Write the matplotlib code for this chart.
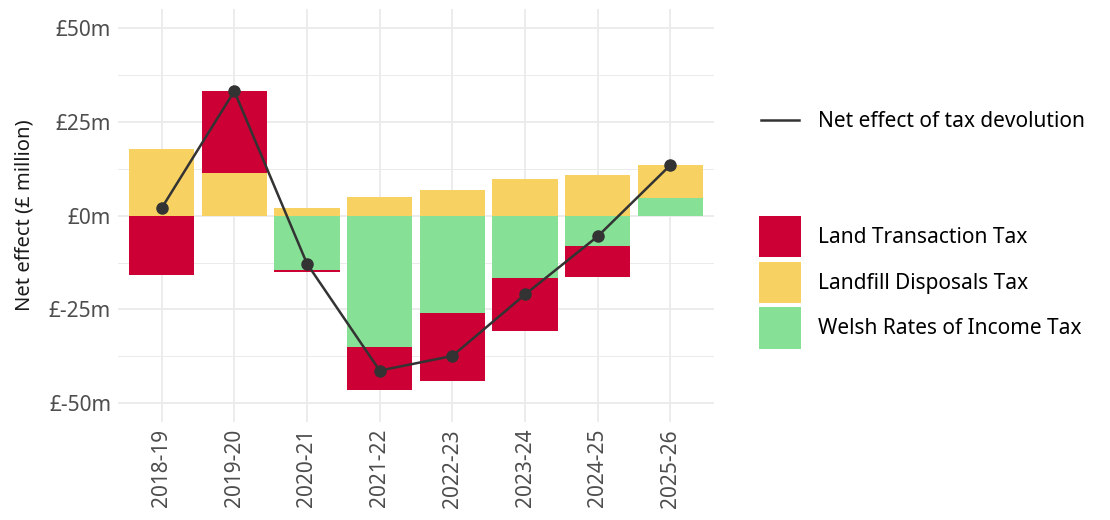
import numpy as np
import matplotlib
matplotlib.use("Agg")
import matplotlib.pyplot as plt
from matplotlib.patches import Patch
from matplotlib.lines import Line2D

plt.rcParams['font.family'] = ['Noto Sans', 'DejaVu Sans']

years = ["2018-19", "2019-20", "2020-21", "2021-22", "2022-23", "2023-24", "2024-25", "2025-26"]
ltt = [-15.8, 21.7, -0.4, -11.6, -18.1, -14.0, -8.4, 0.0]   # Land Transaction Tax
ldt = [17.8, 11.5, 2.0, 5.1, 6.9, 9.8, 10.9, 8.9]          # Landfill Disposals Tax
writ = [0.0, 0.0, -14.5, -34.9, -26.0, -16.7, -8.0, 4.6]    # Welsh Rates of Income Tax
net = [2.0, 33.2, -12.8, -41.3, -37.4, -21.0, -5.5, 13.5]

series = [("Welsh Rates of Income Tax", writ, "#86e196"),
          ("Landfill Disposals Tax", ldt, "#f7d162"),
          ("Land Transaction Tax", ltt, "#cc0035")]

fig = plt.figure(figsize=(11.1, 5.2), dpi=100)
ax = fig.add_axes([0.1063, 0.1885, 0.5370, 0.7935])

x = np.arange(len(years))
pos_base = np.zeros(len(years))
neg_base = np.zeros(len(years))
for name, vals, col in series:
    v = np.array(vals)
    bottom = np.where(v >= 0, pos_base, neg_base)
    ax.bar(x, v, width=0.9, bottom=bottom, color=col, zorder=2, linewidth=0)
    pos_base += np.clip(v, 0, None)
    neg_base += np.clip(v, None, 0)

ax.plot(x, net, color="#333333", lw=1.8, marker="o", ms=8, zorder=3)

ax.set_xlim(-0.6, len(years) - 0.4)
ax.set_ylim(-55, 55)
ax.set_yticks([-50, -25, 0, 25, 50])
ax.set_yticklabels(["£-50m", "£-25m", "£0m", "£25m", "£50m"])
ax.set_yticks([-37.5, -12.5, 12.5, 37.5], minor=True)
ax.set_xticks(x)
ax.set_xticklabels(years, rotation=90)
ax.grid(True, which="major", color="#ebebeb", lw=1.3, zorder=0)
ax.grid(True, which="minor", axis="y", color="#ebebeb", lw=0.7, zorder=0)
ax.set_axisbelow(True)
for s in ax.spines.values():
    s.set_visible(False)
ax.tick_params(which="both", length=0, labelsize=15, labelcolor="#4d4d4d", pad=5)
ax.set_ylabel("Net effect (£ million)", fontsize=14.5, color="#1a1a1a", labelpad=10)

leg1 = fig.legend([Line2D([], [], color="#333333", lw=1.8)], ["Net effect of tax devolution"],
                  loc="center left", bbox_to_anchor=(0.686, 0.766), frameon=False,
                  fontsize=15, handlelength=1.8, handletextpad=0.9, borderpad=0, borderaxespad=0)
handles = [Patch(facecolor=c, edgecolor="none") for _, _, c in reversed(series)]
labels = [n for n, _, _ in reversed(series)]
leg2 = fig.legend(handles, labels, loc="center left", bbox_to_anchor=(0.684, 0.457), frameon=False,
                  fontsize=15, handlelength=2.0, handleheight=2.7, handletextpad=0.8,
                  labelspacing=0.2, borderpad=0, borderaxespad=0)

fig.savefig("out.png", dpi=100)
